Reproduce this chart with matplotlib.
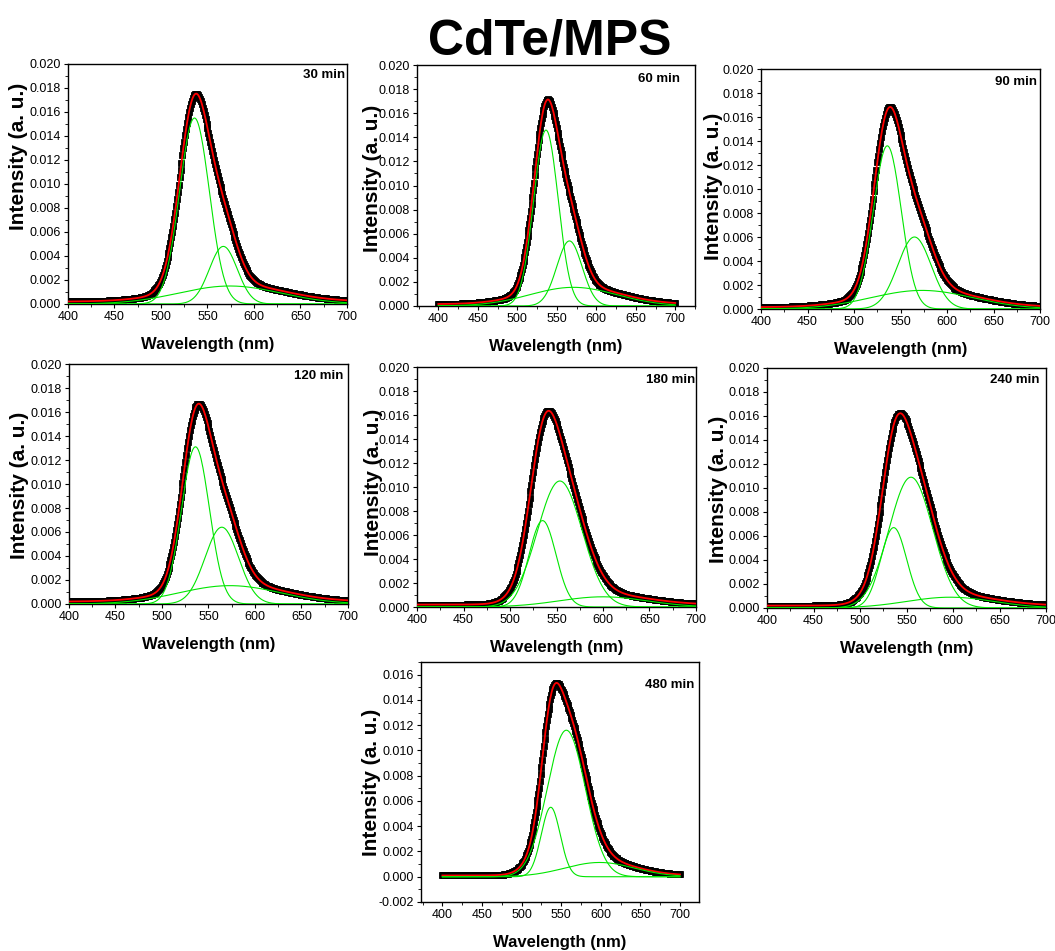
"""
CdTe/MPS PL spectra with three-Gaussian deconvolution, 7 reaction times
"""

import numpy as np
import matplotlib
matplotlib.use('Agg')
import matplotlib.pyplot as plt
from matplotlib.ticker import MultipleLocator, FormatStrFormatter

plt.rcParams['font.family'] = ['Liberation Sans', 'DejaVu Sans']

# fitted peak parameters (one entry per panel)
times = ['30 min', '60 min', '90 min', '120 min', '180 min', '240 min', '480 min']
peak1_center = [536.0, 536.3, 535.8, 536.0, 535.0, 536.2, 536.8]
peak1_height = [0.0155, 0.0146, 0.0136, 0.0131, 0.0072, 0.0067, 0.0055]
peak1_sigma = [16.0, 15.5, 15.0, 15.0, 14.5, 14.0, 12.0]
peak2_center = [567.0, 566.0, 565.0, 564.3, 553.6, 554.8, 556.5]
peak2_height = [0.0048, 0.0054, 0.0060, 0.0064, 0.0105, 0.0109, 0.0116]
peak2_sigma = [15.0, 16.0, 18.0, 18.0, 24.0, 23.5, 24.0]
peak3_center = [574.0, 571.0, 573.0, 573.0, 600.0, 597.0, 598.5]
peak3_height = [0.0015, 0.00155, 0.00155, 0.00153, 0.00085, 0.0009, 0.00113]
peak3_sigma = [55.0, 55.0, 55.0, 55.0, 47.0, 47.0, 44.0]
baseline = [0.0002, 0.00015, 0.00015, 0.0002, 0.0002, 0.0002, 0.0001]

wavelength = np.arange(400, 701, 1.0)

# layout in pixels: left, top, right, bottom of each axes box
FIG_W, FIG_H = 1055, 951
panel_boxes = [(68, 64, 347, 304), (417, 65, 695, 306), (761, 69, 1040, 309),
               (69, 364, 348, 604), (417, 367, 696, 607), (767, 368, 1046, 608),
               (421, 662, 699, 902)]
xlims = [(400, 700), (373, 725), (400, 700), (400, 700), (400, 700), (400, 700), (373, 724)]
ylims = [(0, 0.020)] * 6 + [(-0.002, 0.017)]
ylabel_x = [-0.179, -0.16, -0.172, -0.176, -0.156, -0.174, -0.178]
ylabel_y = [0.617, 0.53, 0.51, 0.496, 0.52, 0.496, 0.5]
tag_pos = [(0.995, 0.955), (0.945, 0.94), (0.99, 0.944),
           (0.985, 0.948), (0.998, 0.944), (0.975, 0.948), (0.985, 0.905)]


def gauss(x, c, h, s):
    return h * np.exp(-(x - c) ** 2 / (2 * s ** 2))


fig = plt.figure(figsize=(FIG_W / 100, FIG_H / 100), dpi=100)

for i, t in enumerate(times):
    l, tp, r, b = panel_boxes[i]
    ax = fig.add_axes([l / FIG_W, 1 - b / FIG_H, (r - l) / FIG_W, (b - tp) / FIG_H])

    g1 = gauss(wavelength, peak1_center[i], peak1_height[i], peak1_sigma[i])
    g2 = gauss(wavelength, peak2_center[i], peak2_height[i], peak2_sigma[i])
    g3 = gauss(wavelength, peak3_center[i], peak3_height[i], peak3_sigma[i])
    fit = g1 + g2 + g3 + baseline[i]

    # measured points (black squares), cumulative fit (red), components (green)
    ax.plot(wavelength, fit, 's', color='black', ms=4, mec='black', mew=0.6, zorder=2)
    ax.plot(wavelength, fit, color='red', lw=1.3, zorder=3)
    for g in (g1, g2, g3):
        ax.plot(wavelength, g, color='#00e600', lw=0.8, zorder=4)

    ax.set_xlim(*xlims[i])
    ax.set_ylim(*ylims[i])
    ax.xaxis.set_major_locator(MultipleLocator(50))
    ax.xaxis.set_minor_locator(MultipleLocator(25))
    ax.yaxis.set_major_locator(MultipleLocator(0.002))
    ax.yaxis.set_minor_locator(MultipleLocator(0.001))
    ax.yaxis.set_major_formatter(FormatStrFormatter('%.3f'))
    ax.tick_params(which='major', direction='out', length=3, width=0.8, pad=2,
                   labelsize=9, top=False, right=False)
    ax.tick_params(which='minor', direction='out', length=2, width=0.6,
                   top=False, right=False)
    for sp in ax.spines.values():
        sp.set_linewidth(1.0)

    ax.set_xlabel('Wavelength (nm)', fontsize=12, fontweight='bold', va='center')
    ax.xaxis.set_label_coords(0.5, -0.167)
    ax.set_ylabel('Intensity (a. u.)', fontsize=15, fontweight='bold', va='center')
    ax.yaxis.set_label_coords(ylabel_x[i], ylabel_y[i])

    ax.text(tag_pos[i][0], tag_pos[i][1], t, transform=ax.transAxes,
            ha='right', va='center', fontsize=9.5, fontweight='bold')

fig.text(550 / FIG_W, 1 - 55 / FIG_H, 'CdTe/MPS', ha='center', va='baseline',
         fontsize=36, fontweight='bold')

fig.savefig('out.png', dpi=100)
